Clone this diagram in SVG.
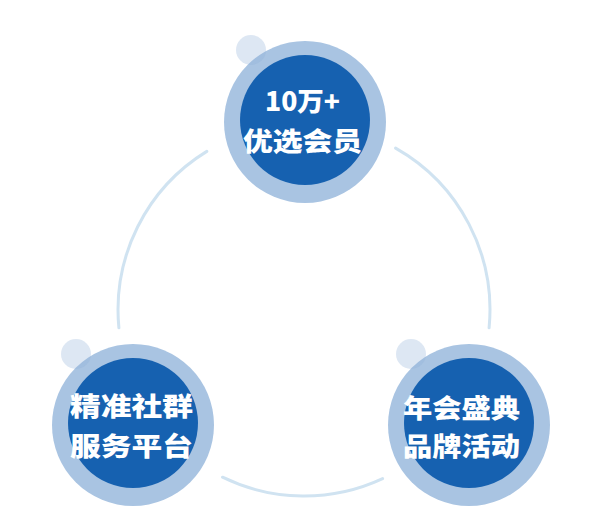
<svg xmlns="http://www.w3.org/2000/svg" width="596" height="526" viewBox="0 0 596 526">
<style>
.ring{fill:#a9c4e2}
.core{fill:#1661b0}
.dot{fill:#8fb0d6;fill-opacity:0.3}
.lbl{fill:#ffffff;font-family:"Noto Sans CJK SC","Noto Sans",sans-serif;font-weight:900;font-size:26px;text-anchor:middle}
.arc{fill:none;stroke:#d0e3f1;stroke-width:3;stroke-linecap:round}
</style>
<rect width="596" height="526" fill="#ffffff"/>
<g id="connectors">
<path class="arc" d="M206.8,151.4 A186,186 0 0 0 118.9,327.8"/>
<path class="arc" d="M395.6,148.1 A186,186 0 0 1 489.1,327.8"/>
<path class="arc" d="M222.5,477.2 A186,186 0 0 0 382.6,478.6"/>
</g>
<g id="node-top">
<circle class="ring" cx="305" cy="122" r="81"/>
<circle class="core" cx="305" cy="120" r="65"/>
<circle class="dot" cx="251" cy="50" r="15"/>
<text class="lbl" x="302.5" y="111" textLength="75" lengthAdjust="spacingAndGlyphs">10万+</text>
<text class="lbl" x="302.5" y="150.5" textLength="119" lengthAdjust="spacingAndGlyphs">优选会员</text>
</g>
<g id="node-left">
<circle class="ring" cx="133" cy="425" r="81"/>
<circle class="core" cx="133" cy="423" r="65"/>
<circle class="dot" cx="76" cy="354" r="15"/>
<text class="lbl" x="131.5" y="415.5" textLength="123" lengthAdjust="spacingAndGlyphs">精准社群</text>
<text class="lbl" x="131.5" y="455.5" textLength="123" lengthAdjust="spacingAndGlyphs">服务平台</text>
</g>
<g id="node-right">
<circle class="ring" cx="469" cy="425" r="81"/>
<circle class="core" cx="469" cy="423" r="65"/>
<circle class="dot" cx="411" cy="354" r="15"/>
<text class="lbl" x="461.5" y="418" textLength="117" lengthAdjust="spacingAndGlyphs">年会盛典</text>
<text class="lbl" x="461.5" y="455.5" textLength="117" lengthAdjust="spacingAndGlyphs">品牌活动</text>
</g>
</svg>
